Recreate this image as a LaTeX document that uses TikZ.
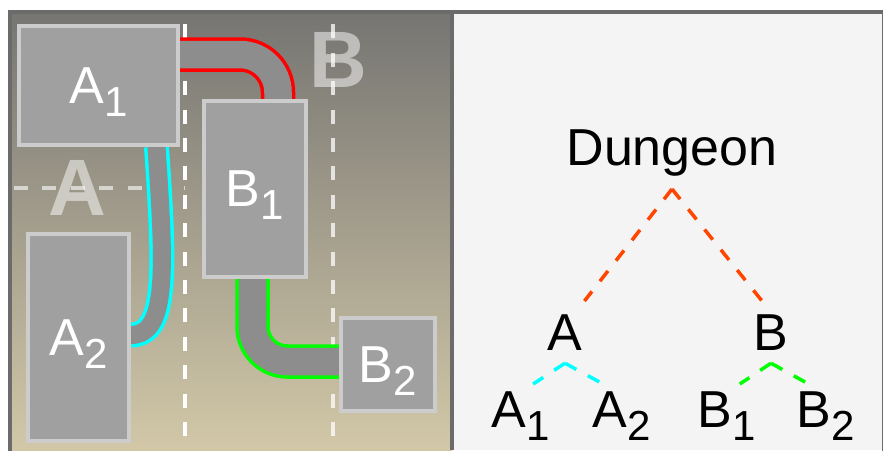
\documentclass[tikz,border=0pt]{standalone}
\usepackage{fontspec}
\setmainfont{Liberation Sans}
\usepackage{tikz}
\usetikzlibrary{positioning}
\definecolor{maptop}{RGB}{118,117,114}
\definecolor{mapbottom}{RGB}{210,200,168}
\definecolor{roomfill}{RGB}{160,160,160}
\definecolor{roomedge}{RGB}{204,204,204}
\definecolor{corridorfill}{RGB}{141,141,141}
\definecolor{framegray}{RGB}{107,107,107}
\definecolor{panelbg}{RGB}{244,244,244}
\definecolor{branchred}{RGB}{255,69,0}
\definecolor{edgered}{RGB}{255,0,0}
\definecolor{edgecyan}{RGB}{0,255,255}
\definecolor{edgegreen}{RGB}{0,255,0}
\newcommand{\labelfont}{\fontsize{52}{60}\selectfont}
\newcommand{\regionfont}{\fontsize{80}{90}\selectfont\bfseries}
\newcommand{\subidx}[1]{\raisebox{-13pt}{\fontsize{42}{48}\selectfont #1}}
\pgfdeclarelayer{background}
\pgfdeclarelayer{map}
\pgfsetlayers{background,map,main}
\tikzset{
room/.style={rectangle, draw=roomedge, fill=roomfill, line width=3.5pt, text=white, font=\labelfont, inner sep=0pt, text depth=0pt},
corridor/.style={line width=3.5pt, double=corridorfill, double distance=27.5pt},
grid_line/.style={white, line width=3.5pt, dash pattern=on 14pt off 14.4pt},
region_mark/.style={font=\regionfont, text=white, text opacity=0.5, inner sep=0pt},
tree_label/.style={font=\labelfont, text=black, inner sep=13pt, anchor=base},
leaf/.style={tree_label, inner sep=7pt},
branch/.style={line width=3.5pt, dash pattern=on 13pt off 13pt},
frame_line/.style={framegray, line width=4pt}
}

\begin{document}
\begin{tikzpicture}[x=1pt, y=-1pt]
    \useasboundingbox (0,0) rectangle (883,450);
    \clip (0,0) rectangle (883,450);

    % map: rooms
    \node[room, minimum width=159pt, minimum height=119pt] (room_A1) at (98.5,85.5) {A\subidx{1}};
    \node[room, minimum width=101pt, minimum height=207pt] (room_A2) at (78.5,337.5) {A\subidx{2}};
    \node[room, minimum width=102pt, minimum height=176pt] (room_B1) at (255,189) {B\subidx{1}};
    \node[room, minimum width=94pt, minimum height=93pt] (room_B2) at (388,364.5) {B\subidx{2}};

    \begin{pgfonlayer}{background}
        \shade[top color=maptop, bottom color=mapbottom] (10,12) rectangle (452,450);
        \fill[panelbg] (452,12) rectangle (883,450);
        \draw[grid_line] (185,-4) -- (185,450);
        \draw[grid_line, opacity=0.75] (333,-4) -- (333,450);
        \draw[grid_line, opacity=0.6] (14,188) -- (185,188);
        \node[region_mark] (region_A) at (77,188) {A};
        \node[region_mark] (region_B) at (338,60) {B};
    \end{pgfonlayer}

    % map: corridors
    \begin{pgfonlayer}{map}
        \draw[corridor, edgered, rounded corners=38pt] ([yshift=31pt]room_A1.east) -| ([xshift=23pt]room_B1.north);
        \draw[corridor, edgecyan, double distance=18pt] ([xshift=58pt]room_A1.south) .. controls +(8,120) and +(38,0) .. ([yshift=2.5pt]room_A2.east);
        \draw[corridor, edgegreen, rounded corners=35pt] ([xshift=-2.5pt]room_B1.south) |- ([yshift=3pt]room_B2.west);
    \end{pgfonlayer}

    % tree
    \node[tree_label] (tree_root) at (672,165) {Dungeon};
    \node[tree_label] (tree_A) at (565,350) {A};
    \node[tree_label] (tree_B) at (771,350) {B};
    \node[leaf] (tree_A1) at (521,427) {A\subidx{1}};
    \node[leaf] (tree_A2) [base right=28pt of tree_A1] {A\subidx{2}};
    \node[leaf] (tree_B1) at (727,427) {B\subidx{1}};
    \node[leaf] (tree_B2) [base right=26pt of tree_B1] {B\subidx{2}};

    \draw[branch, branchred] (tree_root.south) -- (tree_A.58);
    \draw[branch, branchred] (tree_root.south) -- (tree_B.106);
    \draw[branch, edgecyan] (tree_A.south) -- (tree_A1.69);
    \draw[branch, edgecyan] (tree_A.south) -- (tree_A2.120);
    \draw[branch, edgegreen] (tree_B.south) -- (tree_B1.68);
    \draw[branch, edgegreen] (tree_B.south) -- (tree_B2.118);

    % frame
    \draw[frame_line] (9.5,12) rectangle (884,470);
    \draw[frame_line] (452,12) -- (452,450);
\end{tikzpicture}
\end{document}
